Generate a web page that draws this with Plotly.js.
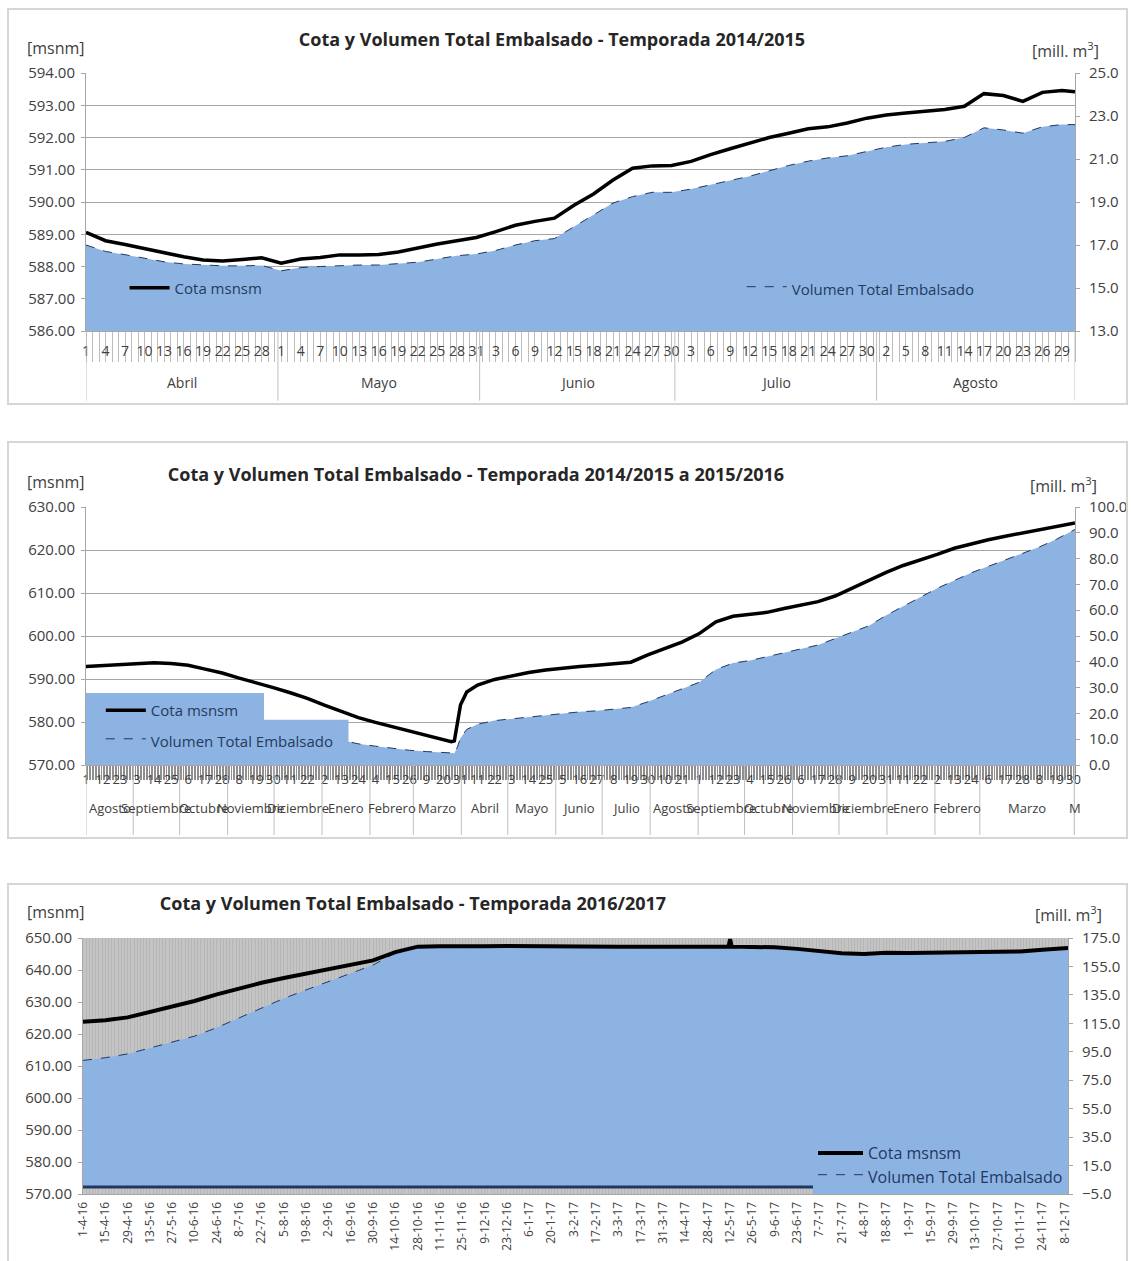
<!DOCTYPE html>
<html lang="es">
<head>
<meta charset="utf-8">
<script src="https://cdn.plot.ly/plotly-3.0.1.min.js"></script>
<style>
 html,body{margin:0;padding:0;background:#fff;}
 body{width:1134px;height:1261px;position:relative;overflow:hidden;}
 .plot{position:absolute;left:0;width:1134px;}
 .frame{position:absolute;border:2px solid #d6d6d6;box-sizing:border-box;pointer-events:none;}
</style>
</head>
<body>
<div id="g1" class="plot" style="top:0;height:410px"></div>
<div id="g2" class="plot" style="top:430px;height:420px"></div>
<div id="g3" class="plot" style="top:870px;height:391px"></div>
<div class="frame" style="left:7px;top:8px;width:1121px;height:397px"></div>
<div class="frame" style="left:7px;top:441px;width:1121px;height:398px"></div>
<div class="frame" style="left:7px;top:883px;width:1121px;height:420px"></div>
<script>
// ---------------- DATA: Temporada 2014/2015 ----------------
const fechas1 = ['2014-04-01','2014-04-04','2014-04-07','2014-04-10','2014-04-13','2014-04-16','2014-04-19','2014-04-22','2014-04-25','2014-04-28',
 '2014-05-01','2014-05-04','2014-05-07','2014-05-10','2014-05-13','2014-05-16','2014-05-19','2014-05-22','2014-05-25','2014-05-28','2014-05-31',
 '2014-06-03','2014-06-06','2014-06-09','2014-06-12','2014-06-15','2014-06-18','2014-06-21','2014-06-24','2014-06-27','2014-06-30',
 '2014-07-03','2014-07-06','2014-07-09','2014-07-12','2014-07-15','2014-07-18','2014-07-21','2014-07-24','2014-07-27','2014-07-30',
 '2014-08-02','2014-08-05','2014-08-08','2014-08-11','2014-08-14','2014-08-17','2014-08-20','2014-08-23','2014-08-26','2014-08-29',
 '2014-08-31'];
const cota1 = [589.06,588.80,588.68,588.55,588.42,588.30,588.20,588.17,588.22,588.27,
 588.10,588.23,588.28,588.36,588.36,588.37,588.45,588.58,588.70,588.80,588.90,
 589.08,589.28,589.40,589.50,589.90,590.25,590.68,591.05,591.12,591.13,
 591.26,591.47,591.65,591.82,592.00,592.13,592.27,592.33,592.45,592.60,
 592.70,592.76,592.82,592.87,592.97,593.36,593.30,593.12,593.40,593.46,
 593.42];
const vol1 = [17.00,16.70,16.55,16.38,16.22,16.12,16.06,16.03,16.03,16.05,
 15.80,15.95,16.00,16.05,16.07,16.07,16.12,16.20,16.35,16.50,16.58,
 16.75,17.00,17.20,17.30,17.85,18.40,18.95,19.25,19.45,19.45,
 19.60,19.80,20.00,20.20,20.45,20.70,20.90,21.05,21.15,21.35,
 21.55,21.68,21.75,21.82,22.00,22.45,22.35,22.20,22.50,22.60,
 22.60];
const ticks1 = fechas1.slice(0, 51);
const meses1 = ['Abril','Mayo','Junio','Julio','Agosto'];
const limites1 = ['2014-04-01','2014-05-01','2014-06-01','2014-07-01','2014-08-01','2014-09-01'];

// ---------------- DATA: Temporada 2014/2015 a 2015/2016 ----------------
const fechas2 = ['2014-08-01','2014-08-12','2014-08-23','2014-09-03','2014-09-14','2014-09-25','2014-10-06','2014-10-17','2014-10-28',
 '2014-11-08','2014-11-19','2014-11-30','2014-12-11','2014-12-22','2015-01-02','2015-01-13','2015-01-24','2015-02-04','2015-02-15',
 '2015-02-26','2015-03-09','2015-03-20','2015-03-25','2015-03-27','2015-03-29','2015-03-31','2015-04-04','2015-04-11','2015-04-22',
 '2015-05-03','2015-05-14','2015-05-25','2015-06-05','2015-06-16','2015-06-27','2015-07-08','2015-07-19','2015-07-30','2015-08-10',
 '2015-08-21','2015-09-01','2015-09-12','2015-09-23','2015-10-04','2015-10-15','2015-10-26','2015-11-06','2015-11-17','2015-11-28',
 '2015-12-09','2015-12-20','2015-12-31','2016-01-11','2016-01-22','2016-02-02','2016-02-13','2016-02-24','2016-03-06','2016-03-17',
 '2016-03-28','2016-04-08','2016-04-19','2016-04-30','2016-05-01'];
const cota2 = [592.9,593.1,593.5,593.6,593.8,593.6,593.2,592.3,591.4,
 590.2,589.2,588.0,586.8,585.5,583.9,582.5,581.0,579.9,578.9,
 577.8,576.9,575.9,575.4,575.6,579.7,584.0,587.0,588.6,589.9,
 590.8,591.5,592.1,592.6,592.9,593.2,593.5,593.9,595.6,597.2,
 598.6,600.5,603.3,604.6,605.0,605.5,606.4,607.3,608.0,609.3,
 611.2,613.0,614.8,616.4,617.6,619.0,620.4,621.5,622.4,623.2,
 624.0,624.7,625.4,626.2,626.3];
const vol2 = [22.5,22.8,23.4,23.6,23.9,23.6,23.0,21.8,20.5,
 18.9,17.5,16.0,14.5,12.8,11.0,9.6,8.2,7.3,6.4,
 5.7,5.2,4.7,4.5,4.6,7.0,10.5,13.8,15.8,17.2,
 17.9,18.7,19.3,20.0,20.6,21.0,21.6,22.3,24.5,27.0,
 29.3,32.0,37.0,39.5,40.5,42.0,43.5,44.8,46.5,49.0,
 51.5,54.0,58.0,61.5,65.0,68.5,71.5,74.5,77.0,79.5,
 82.0,84.5,87.5,91.0,91.3];
const ticks2 = ['2014-08-01','2014-08-12','2014-08-23','2014-09-03','2014-09-14','2014-09-25','2014-10-06','2014-10-17','2014-10-28',
 '2014-11-08','2014-11-19','2014-11-30','2014-12-11','2014-12-22','2015-01-02','2015-01-13','2015-01-24','2015-02-04','2015-02-15',
 '2015-02-26','2015-03-09','2015-03-20','2015-03-31','2015-04-11','2015-04-22','2015-05-03','2015-05-14','2015-05-25','2015-06-05',
 '2015-06-16','2015-06-27','2015-07-08','2015-07-19','2015-07-30','2015-08-10','2015-08-21','2015-09-01','2015-09-12','2015-09-23',
 '2015-10-04','2015-10-15','2015-10-26','2015-11-06','2015-11-17','2015-11-28','2015-12-09','2015-12-20','2015-12-31','2016-01-11',
 '2016-01-22','2016-02-02','2016-02-13','2016-02-24','2016-03-06','2016-03-17','2016-03-28','2016-04-08','2016-04-19','2016-04-30'];
const meses2 = ['Agosto','Septiembre','Octubre','Noviembre','Diciembre','Enero','Febrero','Marzo','Abril','Mayo','Junio','Julio',
 'Agosto','Septiembre','Octubre','Noviembre','Diciembre','Enero','Febrero','Marzo','M'];
const limites2 = ['2014-08-01','2014-09-01','2014-10-01','2014-11-01','2014-12-01','2015-01-01','2015-02-01','2015-03-01','2015-04-01',
 '2015-05-01','2015-06-01','2015-07-01','2015-08-01','2015-09-01','2015-10-01','2015-11-01','2015-12-01','2016-01-01','2016-02-01',
 '2016-03-01','2016-05-01','2016-05-02'];

// ---------------- DATA: Temporada 2016/2017 ----------------
const fechas3 = ['2016-04-01','2016-04-15','2016-04-29','2016-05-13','2016-05-27','2016-06-10','2016-06-24','2016-07-08','2016-07-22',
 '2016-08-05','2016-08-19','2016-09-02','2016-09-16','2016-09-30','2016-10-14','2016-10-28','2016-11-11','2016-11-25','2016-12-09',
 '2016-12-23','2017-01-06','2017-01-20','2017-02-03','2017-02-17','2017-03-03','2017-03-17','2017-03-31','2017-04-14','2017-04-28',
 '2017-05-11','2017-05-12','2017-05-13','2017-05-26','2017-06-09','2017-06-23','2017-07-07','2017-07-21','2017-08-04','2017-08-18',
 '2017-09-01','2017-09-15','2017-09-29','2017-10-13','2017-10-27','2017-11-10','2017-11-24','2017-12-08','2017-12-10'];
const cota3 = [623.8,624.3,625.2,626.8,628.4,630.3,632.4,634.3,636.0,
 637.5,638.9,640.3,641.6,643.0,645.6,647.3,647.4,647.3,647.4,
 647.5,647.4,647.4,647.3,647.3,647.3,647.3,647.3,647.3,647.3,
 647.3,649.6,647.3,647.2,647.1,646.6,646.0,645.2,645.0,645.4,
 645.3,645.4,645.5,645.6,645.6,645.8,646.3,646.9,646.9];
const vol3 = [88.9,90.8,93.5,97.5,101.5,106.0,112.0,119.0,126.0,
 132.5,138.5,144.5,150.0,156.0,164.5,168.5,168.7,168.5,168.6,
 168.8,168.6,168.6,168.5,168.5,168.5,168.5,168.5,168.5,168.5,
 168.5,168.5,168.5,168.3,168.1,167.0,165.6,163.8,163.3,164.2,
 164.0,164.2,164.4,164.6,164.6,165.0,166.2,167.5,167.5];
const ticks3 = ['2016-04-01','2016-04-15','2016-04-29','2016-05-13','2016-05-27','2016-06-10','2016-06-24','2016-07-08','2016-07-22',
 '2016-08-05','2016-08-19','2016-09-02','2016-09-16','2016-09-30','2016-10-14','2016-10-28','2016-11-11','2016-11-25','2016-12-09',
 '2016-12-23','2017-01-06','2017-01-20','2017-02-03','2017-02-17','2017-03-03','2017-03-17','2017-03-31','2017-04-14','2017-04-28',
 '2017-05-12','2017-05-26','2017-06-09','2017-06-23','2017-07-07','2017-07-21','2017-08-04','2017-08-18','2017-09-01','2017-09-15',
 '2017-09-29','2017-10-13','2017-10-27','2017-11-10','2017-11-24','2017-12-08'];

// ---------------- STYLE / HELPERS ----------------
const AZUL = '#8DB3E2';
const BORDE = '#1F3864';
const GRIS = '#a6a6a6';
const TXT = '#404040';
const FAM = 'Open Sans, sans-serif';
const DAY = 86400000;
const cfg = {displayModeBar:false, staticPlot:true};
function iso(ms){ return new Date(ms).toISOString().slice(0,19).replace('T',' '); }
function dayNum(f){ return String(+f.slice(8,10)); }
function dmy(f){ return (+f.slice(8,10)) + '-' + (+f.slice(5,7)) + '-' + f.slice(2,4); }
function monthDecor(limits, names, r0s, r1s, yLab, yDiv, fsize){
  const r0 = Date.parse(r0s), r1 = Date.parse(r1s);
  const b = limits.map(l => Math.min(r1, Math.max(r0, Date.parse(l) - DAY/2)));
  const shapes = b.map(t => ({type:'line', xref:'x', yref:'paper', x0:iso(t), x1:iso(t), y0:0, y1:yDiv,
     line:{color:'#bfbfbf', width:1}}));
  const ann = names.map((n,i) => ({xref:'x', yref:'paper', x:iso((b[i]+b[i+1])/2), y:yLab, text:n,
     showarrow:false, xanchor:'center', yanchor:'middle', font:{family:FAM, size:fsize, color:TXT}}));
  return {shapes, ann};
}
function unitAnn(xl, yl, xr, yr){
  return [
    {xref:'paper', yref:'paper', x:xl, y:yl, text:'[msnm]', showarrow:false, xanchor:'center', yanchor:'middle',
     font:{family:FAM, size:16, color:TXT}},
    {xref:'paper', yref:'paper', x:xr, y:yr, text:'[mill. m<sup>3</sup>]', showarrow:false, xanchor:'center', yanchor:'middle',
     font:{family:FAM, size:16, color:TXT}}
  ];
}
function yAxes(vr, vdt, vt0, cr, cdt, grid){
  return {
    yaxis:{side:'right', range:vr, dtick:vdt, tick0:vt0, tickformat:'.1f', showgrid:false, zeroline:false,
      showline:true, linecolor:GRIS, ticks:'outside', ticklen:4, tickcolor:GRIS, ticklabelstandoff:6,
      tickfont:{family:FAM, size:15, color:TXT}},
    yaxis2:{overlaying:'y', side:'left', range:cr, dtick:cdt, tickformat:'.2f', showgrid:grid, gridcolor:GRIS, gridwidth:1,
      zeroline:false, showline:true, linecolor:GRIS, ticks:'outside', ticklen:4, tickcolor:GRIS, ticklabelstandoff:3,
      tickfont:{family:FAM, size:15, color:TXT}}
  };
}
function traces(f, c, v, lw, lg){
  return [
    {x:f, y:v, type:'scatter', mode:'lines', fill:'tozeroy', fillcolor:AZUL, xaxis:'x', yaxis:'y',
     line:{color:BORDE, width:1, dash:'dash'}, name:'Volumen Total Embalsado', legendrank:2, legendgroup:'b',
     legend: lg ? 'legend2' : 'legend'},
    {x:f, y:c, type:'scatter', mode:'lines', xaxis:'x', yaxis:'y2',
     line:{color:'#000', width:lw}, name:'Cota msnsm', legendrank:1, legendgroup:'a', legend:'legend'}
  ];
}

// ---------------- PANEL 1 ----------------
(function(){
  const r0 = '2014-04-01', r1 = '2014-08-31';
  const md = monthDecor(limites1, meses1, r0, r1, -0.198, -0.27, 14);
  const lfont = {family:FAM, size:15, color:'#243b5e'};
  const layout = Object.assign({
    width:1134, height:410, margin:{l:86, r:59, t:73, b:79},
    paper_bgcolor:'rgba(0,0,0,0)', plot_bgcolor:'#fff', font:{family:FAM, color:TXT},
    title:{text:'<b>Cota y Volumen Total Embalsado - Temporada 2014/2015</b>', x:552/1134, xanchor:'center',
      y:1-40/410, yanchor:'middle', font:{family:FAM, size:18, color:'#262626'}},
    xaxis:{type:'date', range:[r0, r1], tickmode:'array', tickvals:ticks1, ticktext:ticks1.map(dayNum), ticks:'',
      showgrid:false, showline:true, linecolor:GRIS, ticklabelstandoff:7, tickangle:0,
      tickfont:{family:FAM, size:14, color:TXT},
      minor:{ticks:'outside', tick0:r0, dtick:DAY, ticklen:30, tickcolor:'#bdbdbd', tickwidth:1}},
    showlegend:true,
    legend:{orientation:'v', x:0.039, xanchor:'left', y:0.167, yanchor:'middle', itemwidth:40,
      bgcolor:'rgba(0,0,0,0)', font:lfont},
    legend2:{orientation:'v', x:0.663, xanchor:'left', y:0.163, yanchor:'middle', itemwidth:40,
      bgcolor:'rgba(0,0,0,0)', font:lfont},
    shapes:md.shapes,
    annotations:md.ann.concat(unitAnn(-0.030, 1.097, 0.99, 1.089))
  }, yAxes([13,25], 2, 13, [586,594], 1, true));
  Plotly.newPlot('g1', traces(fechas1, cota1, vol1, 3.5, true), layout, cfg);
})();

// ---------------- PANEL 2 ----------------
(function(){
  const r0 = '2014-08-01', r1 = '2016-05-01';
  const md = monthDecor(limites2, meses2, r0, r1, -0.167, -0.271, 13);
  const boxes = [
    {type:'rect', xref:'paper', yref:'paper', x0:0, x1:0.18, y0:0.16, y1:0.279, fillcolor:AZUL, line:{width:0}, layer:'above'},
    {type:'rect', xref:'paper', yref:'paper', x0:0, x1:0.2654, y0:0.0, y1:0.175, fillcolor:AZUL, line:{width:0}, layer:'above'}
  ];
  const layout = Object.assign({
    width:1134, height:420, margin:{l:86, r:59, t:77, b:85},
    paper_bgcolor:'rgba(0,0,0,0)', plot_bgcolor:'#fff', font:{family:FAM, color:TXT},
    title:{text:'<b>Cota y Volumen Total Embalsado - Temporada 2014/2015 a 2015/2016</b>', x:476/1134, xanchor:'center',
      y:1-45/420, yanchor:'middle', font:{family:FAM, size:18, color:'#262626'}},
    xaxis:{type:'date', range:[r0, r1], tickmode:'array', tickvals:ticks2, ticktext:ticks2.map(dayNum), ticks:'',
      showgrid:false, showline:true, linecolor:GRIS, ticklabelstandoff:2, tickangle:0,
      tickfont:{family:FAM, size:13, color:TXT},
      minor:{ticks:'outside', tick0:r0, dtick:DAY, ticklen:14, tickcolor:'#8f8f8f', tickwidth:1}},
    showlegend:true,
    legend:{orientation:'v', x:0.015, xanchor:'left', y:0.275, yanchor:'top', itemwidth:40, tracegroupgap:8,
      bgcolor:'rgba(0,0,0,0)', font:{family:FAM, size:15, color:'#243b5e'}},
    shapes:md.shapes.concat(boxes),
    annotations:md.ann.concat(unitAnn(-0.030, 1.097, 0.988, 1.085))
  }, yAxes([0,100], 10, 0, [570,630], 10, true));
  Plotly.newPlot('g2', traces(fechas2, cota2, vol2, 3.5, false), layout, cfg);
})();

// ---------------- PANEL 3 ----------------
(function(){
  const r0 = '2016-04-01', r1 = '2017-12-10';
  const base = {type:'line', xref:'paper', yref:'y', x0:0, x1:1, y0:0, y1:0, line:{color:BORDE, width:3}, layer:'above'};
  const layout = Object.assign({
    width:1134, height:391, margin:{l:83, r:66, t:68, b:67},
    paper_bgcolor:'rgba(0,0,0,0)', plot_bgcolor:'#c4c4c4', font:{family:FAM, color:TXT},
    title:{text:'<b>Cota y Volumen Total Embalsado - Temporada 2016/2017</b>', x:413/1134, xanchor:'center',
      y:1-34/391, yanchor:'middle', font:{family:FAM, size:18, color:'#262626'}},
    xaxis:{type:'date', range:[r0, r1], tickmode:'array', tickvals:ticks3, ticktext:ticks3.map(dmy), ticks:'',
      showgrid:false, showline:true, linecolor:GRIS, tickangle:-90, ticklabelstandoff:2,
      tickfont:{family:FAM, size:12, color:TXT},
      minor:{tick0:r0, dtick:2*DAY, showgrid:true, gridcolor:'#b6b6b6', gridwidth:1}},
    showlegend:true,
    legend:{orientation:'v', x:1, xanchor:'right', y:0, yanchor:'bottom', itemwidth:45, tracegroupgap:0,
      bgcolor:AZUL, borderwidth:0, font:{family:FAM, size:16, color:'#1F3864'}},
    shapes:[base],
    annotations:unitAnn(-0.027, 1.10, 1.0, 1.094)
  }, yAxes([-5,175], 20, -5, [570,650], 10, false));
  Plotly.newPlot('g3', traces(fechas3, cota3, vol3, 4, false), layout, cfg);
})();
</script>
</body>
</html>
